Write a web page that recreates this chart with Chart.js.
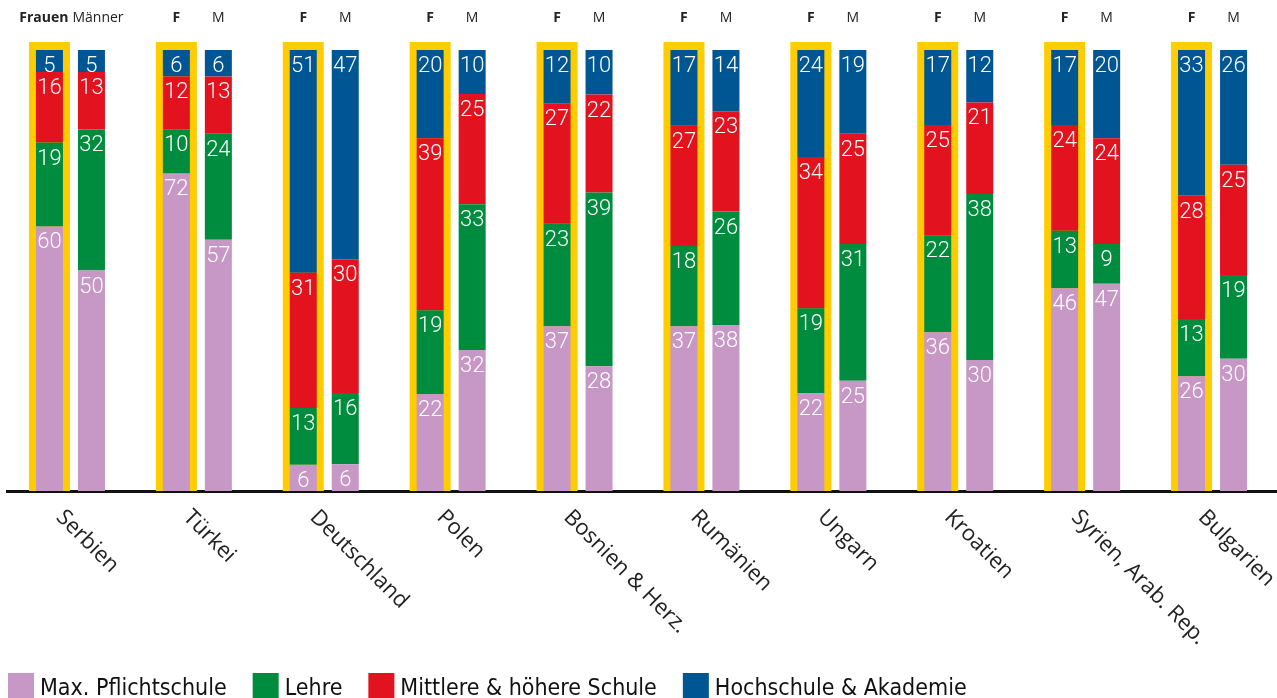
<!DOCTYPE html>
<html>
<head>
<meta charset="utf-8">
<script src="https://cdn.jsdelivr.net/npm/chart.js@4"></script>
<style>
html, body { margin: 0; padding: 0; background: #fff; }
</style>
</head>
<body>
<canvas id="chart" width="1277" height="698"></canvas>
<script>
const countries = ['Serbien', 'Türkei', 'Deutschland', 'Polen', 'Bosnien & Herz.', 'Rumänien', 'Ungarn', 'Kroatien', 'Syrien, Arab. Rep.', 'Bulgarien']
const levels = ['Max. Pflichtschule', 'Lehre', 'Mittlere & höhere Schule', 'Hochschule & Akademie']
const colors = ['#C797C5', '#008C3E', '#E2121F', '#005693']

// Frauen, bottom to top
const pflichtF = [60, 72, 6, 22, 37, 37, 22, 36, 46, 26]
const lehreF = [19, 10, 13, 19, 23, 18, 19, 22, 13, 13]
const mittlereF = [16, 12, 31, 39, 27, 27, 34, 25, 24, 28]
const hochF = [5, 6, 51, 20, 12, 17, 24, 17, 17, 33]
// Männer, bottom to top
const pflichtM = [50, 57, 6, 32, 28, 38, 25, 30, 47, 30]
const lehreM = [32, 24, 16, 33, 39, 26, 31, 38, 9, 19]
const mittlereM = [13, 13, 30, 25, 22, 23, 25, 21, 24, 25]
const hochM = [5, 6, 47, 10, 10, 14, 19, 12, 20, 26]

const groupF = [pflichtF, lehreF, mittlereF, hochF]
const groupM = [pflichtM, lehreM, mittlereM, hochM]

// bars are drawn as share of their own total (rounded values do not add up to 100 exactly)
function share(group) {
	let totals = countries.map((c, i) => group.reduce((s, arr) => s + arr[i], 0))
	return group.map(arr => arr.map((v, i) => v / totals[i] * 100))
}

function makeSets(group, stack) {
	let scaled = share(group)
	return group.map((arr, k) => ({
		label: levels[k],
		data: scaled[k],
		shown: arr,
		stack: stack,
		backgroundColor: colors[k],
		borderWidth: 0
	}))
}

const datasets = makeSets(groupF, 'F').concat(makeSets(groupM, 'M'))

//yellow frame behind the Frauen bars
const framePlugin = {
	id: 'frames',
	beforeDatasetsDraw(chart) {
		const ctx = chart.ctx
		const bottom = chart.chartArea.bottom
		ctx.save()
		ctx.fillStyle = '#FFCC00'
		chart.getDatasetMeta(3).data.forEach(bar => {
			ctx.fillRect(bar.x - bar.width / 2 - 7, bar.y - 8, bar.width + 14, bottom - bar.y + 8)
		})
		ctx.restore()
	},
	afterDatasetsDraw(chart) {
		const ctx = chart.ctx
		ctx.save()
		ctx.font = '300 22px Roboto'
		ctx.fillStyle = '#ffffff'
		ctx.textAlign = 'center'
		ctx.textBaseline = 'alphabetic'
		chart.data.datasets.forEach((ds, di) => {
			chart.getDatasetMeta(di).data.forEach((bar, i) => {
				ctx.fillText(String(ds.shown[i]), bar.x, bar.y + 22)
			})
		})
		ctx.restore()
	},
	afterDraw(chart) {
		const ctx = chart.ctx
		const x = chart.scales.x
		const fMeta = chart.getDatasetMeta(0).data
		const mMeta = chart.getDatasetMeta(4).data
		ctx.save()
		ctx.fillStyle = '#222'
		ctx.textBaseline = 'middle'
		//header F / M
		countries.forEach((c, i) => {
			let fx = fMeta[i].x
			let mx = mMeta[i].x
			if (i === 0) {
				let mid = (fx + mx) / 2
				ctx.font = 'bold 14px "Open Sans"'
				ctx.textAlign = 'right'
				ctx.fillText('Frauen', mid - 2, 18)
				ctx.font = '14px "Open Sans"'
				ctx.textAlign = 'left'
				ctx.fillText('Männer', mid + 2, 18)
			} else {
				ctx.textAlign = 'center'
				ctx.font = 'bold 14px "Open Sans"'
				ctx.fillText('F', fx, 18)
				ctx.font = '14px "Open Sans"'
				ctx.fillText('M', mx, 18)
			}
		})
		//country labels, turned down to the right
		ctx.font = '22px "Open Sans"'
		ctx.textAlign = 'left'
		ctx.textBaseline = 'top'
		countries.forEach((c, i) => {
			let px = x.getPixelForValue(i)
			ctx.save()
			ctx.translate(px - 3, 506)
			ctx.rotate(Math.PI / 4)
			ctx.fillText(c, 0, 0)
			ctx.restore()
		})
		//legend
		ctx.font = '23px "Liberation Sans Narrow", "DejaVu Sans Condensed", sans-serif'
		ctx.textBaseline = 'alphabetic'
		let lx = 8
		levels.forEach((name, k) => {
			ctx.fillStyle = colors[k]
			ctx.fillRect(lx, 673, 26, 26)
			ctx.fillStyle = '#111'
			ctx.fillText(name, lx + 32, 695)
			lx += 32 + ctx.measureText(name).width + 26
		})
		ctx.restore()
	}
}

new Chart(document.getElementById('chart'), {
	type: 'bar',
	data: {
		labels: countries,
		datasets: datasets
	},
	options: {
		responsive: false,
		animation: false,
		datasets: {
			bar: {
				categoryPercentage: 0.662,
				barPercentage: 0.643
			}
		},
		layout: {
			padding: { left: 7, right: 1, top: 50, bottom: 207 }
		},
		scales: {
			x: {
				stacked: true,
				grid: { display: false, drawTicks: false },
				border: { display: true, color: '#111', width: 3 },
				ticks: { display: false }
			},
			y: {
				stacked: true,
				display: false,
				min: 0,
				max: 100
			}
		},
		plugins: {
			legend: { display: false },
			tooltip: { enabled: false }
		}
	},
	plugins: [framePlugin]
})
</script>
</body>
</html>
